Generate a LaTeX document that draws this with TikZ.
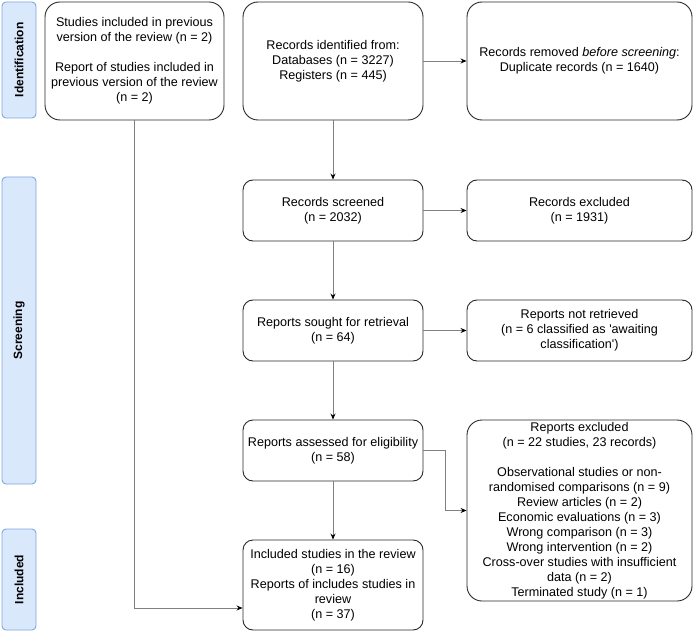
\documentclass[tikz,border=0pt]{standalone}
\usepackage{fontspec}
\setmainfont{Liberation Sans}
\usepackage{xcolor}
\usetikzlibrary{arrows.meta, positioning, calc}
\definecolor{phasefill}{RGB}{218,232,252}
\definecolor{phasedraw}{RGB}{126,166,224}
\definecolor{linegray}{RGB}{128,128,128}
\definecolor{boxdraw}{RGB}{40,40,40}
\tikzset{
  box/.style={rectangle, rounded corners=10pt, draw=boxdraw, line width=0.9pt, fill=white,
              minimum width=180pt, minimum height=61pt, align=center, inner sep=0pt,
              font=\fontsize{12.6}{15}\selectfont},
  wide/.style={minimum width=225pt},
  tall/.style={rounded corners=15pt, minimum height=118pt},
  phase/.style={rectangle, rounded corners=4pt, draw=phasedraw, line width=0.9pt, fill=phasefill,
                minimum width=34pt, inner sep=0pt, font=\fontsize{12}{14.5}\selectfont\bfseries},
  arr/.style={-{Stealth[length=6pt, width=5pt, color=black]}, line width=0.9pt, draw=linegray},
}

\begin{document}
\begin{tikzpicture}[x=1pt, y=-1pt]
\useasboundingbox (0,0) rectangle (693,631);

% Fasen links
\node[phase, minimum height=116pt] (pid) at (19,60) {\rotatebox{90}{Identification}};
\node[phase, minimum height=307pt] (psc) at (19,330.5) {\rotatebox{90}{Screening}};
\node[phase, minimum height=101pt] (pin) at (19,579.5) {\rotatebox{90}{Included}};

% Identificatie
\node[box, tall, minimum width=179pt] (prev) at (134.5,61) {Studies included in previous\\version of the review (n = 2)\\[15pt]Report of studies included in\\previous version of the review\\(n = 2)};
\node[box, tall] (ident) at (333,61) {Records identified from:\\Databases (n = 3227)\\Registers (n = 445)};
\node[box, tall, wide] (removed) at (579.5,61) {Records removed \emph{before screening}:\\Duplicate records (n = 1640)};

% Screening
\node[box] (screened) at (333,210.5) {Records screened\\(n = 2032)};
\node[box, wide] (excluded) at (579.5,210.5) {Records excluded\\(n = 1931)};
\node[box] (sought) at (333,330.5) {Reports sought for retrieval\\(n = 64)};
\node[box, wide] (notretr) at (579.5,330.5) {Reports not retrieved\\(n = 6 classified as \textquotesingle awaiting\\classification\textquotesingle)};
\node[box] (assessed) at (333,450.5) {Reports assessed for eligibility\\(n = 58)};
\node[box, wide, rounded corners=15pt, minimum height=181pt] (repexcl) at (579.5,510.5) {Reports excluded\\(n = 22 studies, 23 records)\\[15pt]Observational studies or non-\\randomised comparisons (n = 9)\\Review articles (n = 2)\\Economic evaluations (n = 3)\\Wrong comparison (n = 3)\\Wrong intervention (n = 2)\\Cross-over studies with insufficient\\data (n = 2)\\Terminated study (n = 1)};

% Inclusie
\node[box, minimum height=90pt] (included) at (333,585) {Included studies in the review\\(n = 16)\\Reports of includes studies in\\review\\(n = 37)};

% Pijlen
\draw[arr] (ident) -- (removed);
\draw[arr] (ident) -- (screened);
\draw[arr] (screened) -- (excluded);
\draw[arr] (screened) -- (sought);
\draw[arr] (sought) -- (notretr);
\draw[arr] (sought) -- (assessed);
\draw[arr] (assessed) -- (included);
\draw[arr] (assessed.east) -- ++(22,0) |- (repexcl.west);
\draw[arr] (prev.south) |- ([yshift=-23pt]included.west);

\end{tikzpicture}
\end{document}
